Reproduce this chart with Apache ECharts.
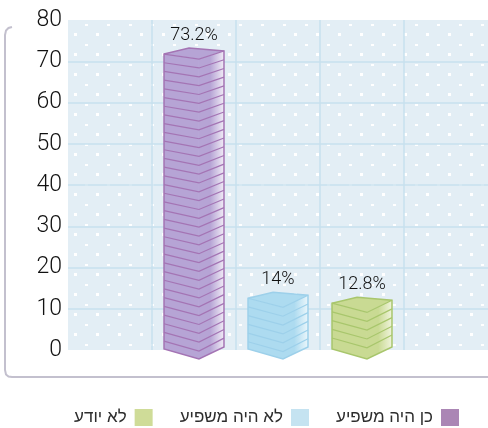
<!DOCTYPE html>
<html>
<head>
<meta charset="utf-8">
<script src="https://cdn.jsdelivr.net/npm/echarts@6/dist/echarts.min.js"></script>
<style>
  html, body { margin: 0; background: #fff; }
  #chart { width: 488px; height: 428px; }
</style>
</head>
<body>
<div id="chart"></div>
<script>
// data
var categories = ['', 'כן היה משפיע', 'לא היה משפיע', 'לא יודע', ' '];
var seriesNames = ['כן היה משפיע', 'לא היה משפיע', 'לא יודע'];
var values = [73.2, 14, 12.8];
var valueLabels = ['73.2%', '14%', '12.8%'];
var yTicks = [0, 10, 20, 30, 40, 50, 60, 70, 80];

var palette = [
  { face: '#b6a4d5', edge: '#a474b4', light: '#f1ecf6', legend: '#ab86b5' },
  { face: '#addbf0', edge: '#9dd0ea', light: '#eaf6fb', legend: '#c5e3f1' },
  { face: '#c9da93', edge: '#a8c66c', light: '#f0f4dc', legend: '#cfdc98' }
];

// dotted background of the plot
var pat = document.createElement('canvas');
pat.width = 22;
pat.height = 20;
var pctx = pat.getContext('2d');
pctx.fillStyle = '#e3eef5';
pctx.fillRect(0, 0, 22, 20);
pctx.fillStyle = '#ffffff';
pctx.fillRect(19, 4, 3, 2);
pctx.fillRect(8, 13, 3, 3);

function renderBar(idx) {
  var c = palette[idx];
  return function (params, api) {
    var base = api.coord([api.value(0), 0]);
    var top = api.coord([api.value(0), api.value(1)]);
    var ceil = api.coord([api.value(0), 80])[1];
    var w = api.size([1, 0])[0] * 0.714;
    var cx = base[0];
    var L = cx - w / 2, R = cx + w / 2, M = cx + w * 0.083, B = cx - w * 0.083;
    // perspective: stripes bend more toward the bottom
    var s = function (y) {
      return 10 - 5.5 * (base[1] - y) / (base[1] - ceil);
    };
    var yt = top[1] + 6;
    var yb = base[1] - 1;
    var children = [];
    children.push({
      type: 'polygon',
      shape: { points: [[L, yt], [M, yt + s(yt)], [M, yb + s(yb)], [L, yb]] },
      style: { fill: c.face }
    });
    children.push({
      type: 'polygon',
      shape: { points: [[M, yt + s(yt)], [R, yt - 3], [R, yb - 2], [M, yb + s(yb)]] },
      style: {
        fill: {
          type: 'linear', x: 0, y: 0, x2: 1, y2: 0,
          colorStops: [{ offset: 0, color: c.face }, { offset: 0.45, color: c.face }, { offset: 1, color: c.light }]
        }
      }
    });
    children.push({
      type: 'polygon',
      shape: { points: [[L, yt], [B, top[1]], [R, yt - 3], [M, yt + s(yt)]] },
      style: { fill: c.face }
    });
    for (var y = yt + 8.7; y < yb - 3; y += 8.7) {
      children.push({
        type: 'polyline',
        shape: { points: [[L, y], [M, y + s(y)], [R, y - 3]] },
        style: { stroke: c.edge, lineWidth: 1.2, fill: 'none' }
      });
    }
    children.push({
      type: 'polyline',
      shape: { points: [[L, yt], [M, yt + s(yt)], [R, yt - 3]] },
      style: { stroke: c.edge, lineWidth: 1.2, fill: 'none' }
    });
    children.push({
      type: 'polygon',
      shape: { points: [[L, yt], [B, top[1]], [R, yt - 3], [R, yb - 2], [M, yb + s(yb)], [L, yb]] },
      style: { stroke: c.edge, lineWidth: 1.5, fill: 'none' }
    });
    children.push({
      type: 'text',
      style: {
        x: cx, y: top[1] - 4,
        text: valueLabels[idx],
        align: 'center', verticalAlign: 'bottom',
        fontFamily: 'Roboto', fontWeight: 300, fontSize: 18, fill: '#111'
      }
    });
    return { type: 'group', children: children };
  };
}

var series = seriesNames.map(function (name, i) {
  return {
    name: name,
    type: 'custom',
    renderItem: renderBar(i),
    itemStyle: { color: palette[i].legend },
    encode: { x: 0, y: 1 },
    data: [[categories[i + 1], values[i]]]
  };
});

var gridColor = '#c7e0ee';
var chart = echarts.init(document.getElementById('chart'));
chart.setOption({
  animation: false,
  grid: {
    left: 68, right: 0, top: 20, bottom: 78,
    show: true, borderWidth: 0,
    backgroundColor: { image: pat, repeat: 'repeat' }
  },
  xAxis: {
    type: 'category',
    data: categories,
    axisLine: { show: false },
    axisTick: { show: false },
    axisLabel: { show: false },
    splitLine: {
      show: true, interval: 0,
      lineStyle: { color: ['transparent', gridColor, gridColor, gridColor, gridColor, 'transparent'], width: 1.5 }
    }
  },
  yAxis: {
    type: 'value',
    min: yTicks[0],
    max: yTicks[yTicks.length - 1],
    interval: 10,
    axisLine: { show: false },
    axisTick: { show: false },
    axisLabel: { margin: 6, fontSize: 23, color: '#111', fontFamily: 'Roboto', fontWeight: 300 },
    splitLine: {
      lineStyle: {
        color: ['transparent', gridColor, gridColor, gridColor, gridColor, gridColor, gridColor, gridColor, 'transparent'],
        width: 1.5
      }
    }
  },
  legend: {
    data: seriesNames.slice().reverse(),
    right: 24, top: 404, width: 470,
    align: 'right',
    icon: 'rect',
    itemWidth: 18, itemHeight: 17, itemGap: 27,
    textStyle: { fontFamily: 'Liberation Sans', fontSize: 17, color: '#2e2e2e', padding: [0, 3, 0, 0] }
  },
  graphic: [{
    type: 'polyline',
    shape: { points: [[12, 27], [8.5, 28], [6, 30.5], [5, 35], [5, 370], [6, 374.5], [8.5, 376.5], [12, 377], [488, 377]] },
    style: { fill: 'none', stroke: '#c3c0ce', lineWidth: 2 },
    silent: true
  }],
  series: series
});
</script>
</body>
</html>
